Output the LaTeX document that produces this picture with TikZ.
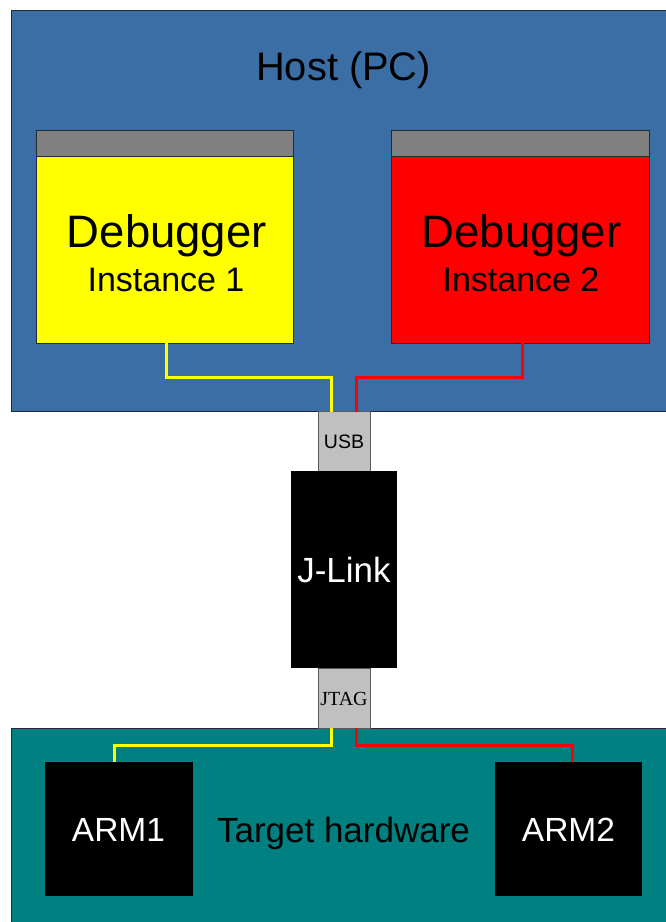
\documentclass[tikz,border=0pt]{standalone}
\usepackage{fontspec}
\setmainfont{Liberation Sans}
\newfontfamily\serifface{Liberation Serif}
\definecolor{hostblue}{HTML}{3A6EA5}
\definecolor{teal2}{HTML}{008080}
\definecolor{bargray}{HTML}{808080}
\definecolor{conngray}{HTML}{C0C0C0}
\definecolor{edgedark}{HTML}{202A33}
\definecolor{pureyellow}{RGB}{255,255,0}
\tikzset{
  box/.style={draw=edgedark, line width=1pt, inner sep=0pt, outer sep=0pt, rectangle},
  chip/.style={fill=black, draw=none, inner sep=0pt, outer sep=0pt, rectangle, text=white},
  ywire/.style={draw=pureyellow, line width=3pt},
  rwire/.style={draw=red, line width=3pt},
  lbl/.style={anchor=base, inner sep=0pt},
}
\begin{document}
\begin{tikzpicture}[x=1pt,y=-1pt]
\useasboundingbox[fill=white] (0,0) rectangle (666,922);
% host
\node[box, fill=hostblue, minimum width=657pt, minimum height=401pt] (host) at (339.5,210.5) {};
\node[lbl] (hostlbl) at (343.6,80) {\fontsize{39.8}{41}\selectfont Host (PC)};
% windows
\node[box, fill=bargray, minimum width=257pt, minimum height=26pt] (bar1) at (164.5,143) {};
\node[box, fill=pureyellow, minimum width=257pt, minimum height=187pt] (win1) at (164.5,249.5) {};
\node[box, fill=bargray, minimum width=258pt, minimum height=26pt] (bar2) at (520,143) {};
\node[box, fill=red, minimum width=258pt, minimum height=187pt] (win2) at (520,249.5) {};
\node[lbl] (dbg1) at (166.8,247) {\fontsize{45.5}{47}\selectfont Debugger};
\node[lbl] (ins1) at (166,291.7) {\fontsize{34}{36}\selectfont Instance 1};
\node[lbl] (dbg2) at (521.5,247) {\fontsize{45.5}{47}\selectfont Debugger};
\node[lbl] (ins2) at (521,291.7) {\fontsize{34}{36}\selectfont Instance 2};
% target
\node[box, fill=teal2, minimum width=657pt, minimum height=196pt] (target) at (339.5,826) {};
\node[chip, minimum width=148pt, minimum height=134pt] (arm1) at (119,829) {};
\node[chip, minimum width=147pt, minimum height=134pt] (arm2) at (568.5,829) {};
\node[lbl, text=white] (arm1lbl) at (118.5,841.5) {\fontsize{33.5}{35}\selectfont ARM1};
\node[lbl, text=white] (arm2lbl) at (568.5,841.5) {\fontsize{33.5}{35}\selectfont ARM2};
\node[lbl] (tgtlbl) at (343.5,842) {\fontsize{35}{37}\selectfont Target hardware};
% j-link
\node[box, fill=conngray, draw=black!65, minimum width=52pt, minimum height=60pt] (usb) at (344,441.5) {};
\node[lbl] (usblbl) at (344,448.5) {\fontsize{19.5}{20}\selectfont USB};
\node[chip, minimum width=106pt, minimum height=197pt] (jlink) at (344,569.5) {};
\node[lbl, text=white] (jlinklbl) at (344,582) {\fontsize{35}{37}\selectfont J-Link};
\node[box, fill=conngray, draw=black!65, minimum width=52pt, minimum height=60pt] (jtag) at (344,698) {};
\node[lbl] (jtaglbl) at (344,705) {\serifface\fontsize{20}{21}\selectfont JTAG};
% wires
\draw[ywire] ([xshift=2pt]win1.south) -- ++(0,34.5) -| ([xshift=-13pt]usb.north);
\draw[rwire] ([xshift=2pt]win2.south) -- ++(0,34.5) -| ([xshift=12pt]usb.north);
\draw[ywire] ([xshift=-13pt]jtag.south) -- ++(0,17.5) -| ([xshift=-4.3pt]arm1.north);
\draw[rwire] ([xshift=12pt]jtag.south) -- ++(0,17.5) -| ([xshift=3.5pt]arm2.north);
\end{tikzpicture}
\end{document}
